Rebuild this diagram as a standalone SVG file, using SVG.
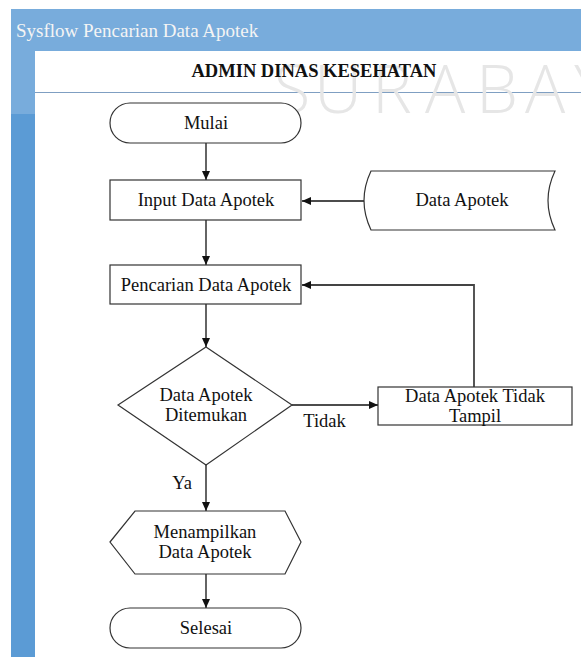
<svg xmlns="http://www.w3.org/2000/svg" width="581" height="657" viewBox="0 0 581 657">
  <style>
    .t { font-family: "Liberation Serif", "Times New Roman", serif; font-size: 18.5px; fill: #111; text-anchor: middle; }
    .shape { fill: #fff; stroke: #333; stroke-width: 1.2; }
    .conn { fill: none; stroke: #111; stroke-width: 1.3; }
    .loop { fill: none; stroke: #444; stroke-width: 1.8; }
  </style>
  <defs>
    <marker id="arrow" markerUnits="userSpaceOnUse" markerWidth="10" markerHeight="9" refX="9" refY="4" orient="auto">
      <path d="M0,0 L9,4 L0,8 z" fill="#111"/>
    </marker>
  </defs>

  <rect x="0" y="0" width="581" height="657" fill="#fff"/>
  <!-- pool header -->
  <rect x="11" y="9" width="570" height="42" fill="#78acdc"/>
  <text x="16" y="37" font-family="Liberation Serif, serif" font-size="19" fill="#f4f4f4">Sysflow Pencarian Data Apotek</text>
  <!-- left lane column -->
  <rect x="11" y="51" width="24" height="63" fill="#78acdc"/>
  <rect x="11" y="114" width="24" height="543" fill="#5b9bd5"/>
  <!-- lane body -->
  <rect x="35" y="51" width="546" height="606" fill="#fff"/>
  <line x1="35" y1="92.5" x2="581" y2="92.5" stroke="#7f9fc2" stroke-width="1.2"/>
  <!-- watermark -->
  <text y="113" x="292 338 392 445 497 545 592" font-family="Open Sans, DejaVu Sans, sans-serif" font-weight="300" font-size="67" fill="#e6e6e6" text-anchor="middle">SURABAY</text>
  <text x="314" y="77" font-family="Liberation Serif, serif" font-weight="bold" font-size="18.5" fill="#111" text-anchor="middle">ADMIN DINAS KESEHATAN</text>

  <g id="connectors">
    <line class="conn" x1="206" y1="143" x2="206" y2="180" marker-end="url(#arrow)"/>
    <line class="conn" x1="365" y1="201" x2="302" y2="201" marker-end="url(#arrow)"/>
    <line class="conn" x1="206" y1="220" x2="206" y2="265" marker-end="url(#arrow)"/>
    <line class="conn" x1="206" y1="304" x2="206" y2="347" marker-end="url(#arrow)"/>
    <line class="conn" x1="292" y1="405" x2="378" y2="405" marker-end="url(#arrow)"/>
    <polyline class="loop" points="474,387 474,285 302,285" marker-end="url(#arrow)"/>
    <line class="conn" x1="206" y1="465" x2="206" y2="511" marker-end="url(#arrow)"/>
    <line class="conn" x1="206" y1="574" x2="206" y2="608" marker-end="url(#arrow)"/>
    <text class="t" x="324.5" y="427">Tidak</text>
    <text class="t" x="182" y="489">Ya</text>
  </g>

  <g id="mulai">
    <rect class="shape" x="110" y="103" width="191" height="40" rx="20" ry="20"/>
    <text class="t" x="206" y="129">Mulai</text>
  </g>
  <g id="input-data-apotek">
    <rect class="shape" x="110" y="180" width="191" height="40"/>
    <text class="t" x="206" y="206">Input Data Apotek</text>
  </g>
  <g id="data-apotek-store">
    <path class="shape" d="M371,171 H555 Q541,200.5 555,230 H371 Q357,200.5 371,171 Z"/>
    <text class="t" x="462" y="206">Data Apotek</text>
  </g>
  <g id="pencarian-data-apotek">
    <rect class="shape" x="110" y="265" width="191" height="39"/>
    <text class="t" x="206" y="290.5">Pencarian Data Apotek</text>
  </g>
  <g id="decision">
    <polygon class="shape" points="206,347 292,405 206,465 118,405"/>
    <text class="t" x="206" y="401">Data Apotek</text>
    <text class="t" x="206" y="421">Ditemukan</text>
  </g>
  <g id="tidak-tampil">
    <rect class="shape" x="378" y="387" width="194" height="38"/>
    <text class="t" x="475" y="402">Data Apotek Tidak</text>
    <text class="t" x="475" y="422">Tampil</text>
  </g>
  <g id="menampilkan">
    <polygon class="shape" points="110,542 135,511 285,511 301,542 285,574 135,574"/>
    <text class="t" x="205" y="538">Menampilkan</text>
    <text class="t" x="205" y="558">Data Apotek</text>
  </g>
  <g id="selesai">
    <rect class="shape" x="110" y="608" width="191" height="40" rx="20" ry="20"/>
    <text class="t" x="206" y="634">Selesai</text>
  </g>
</svg>
